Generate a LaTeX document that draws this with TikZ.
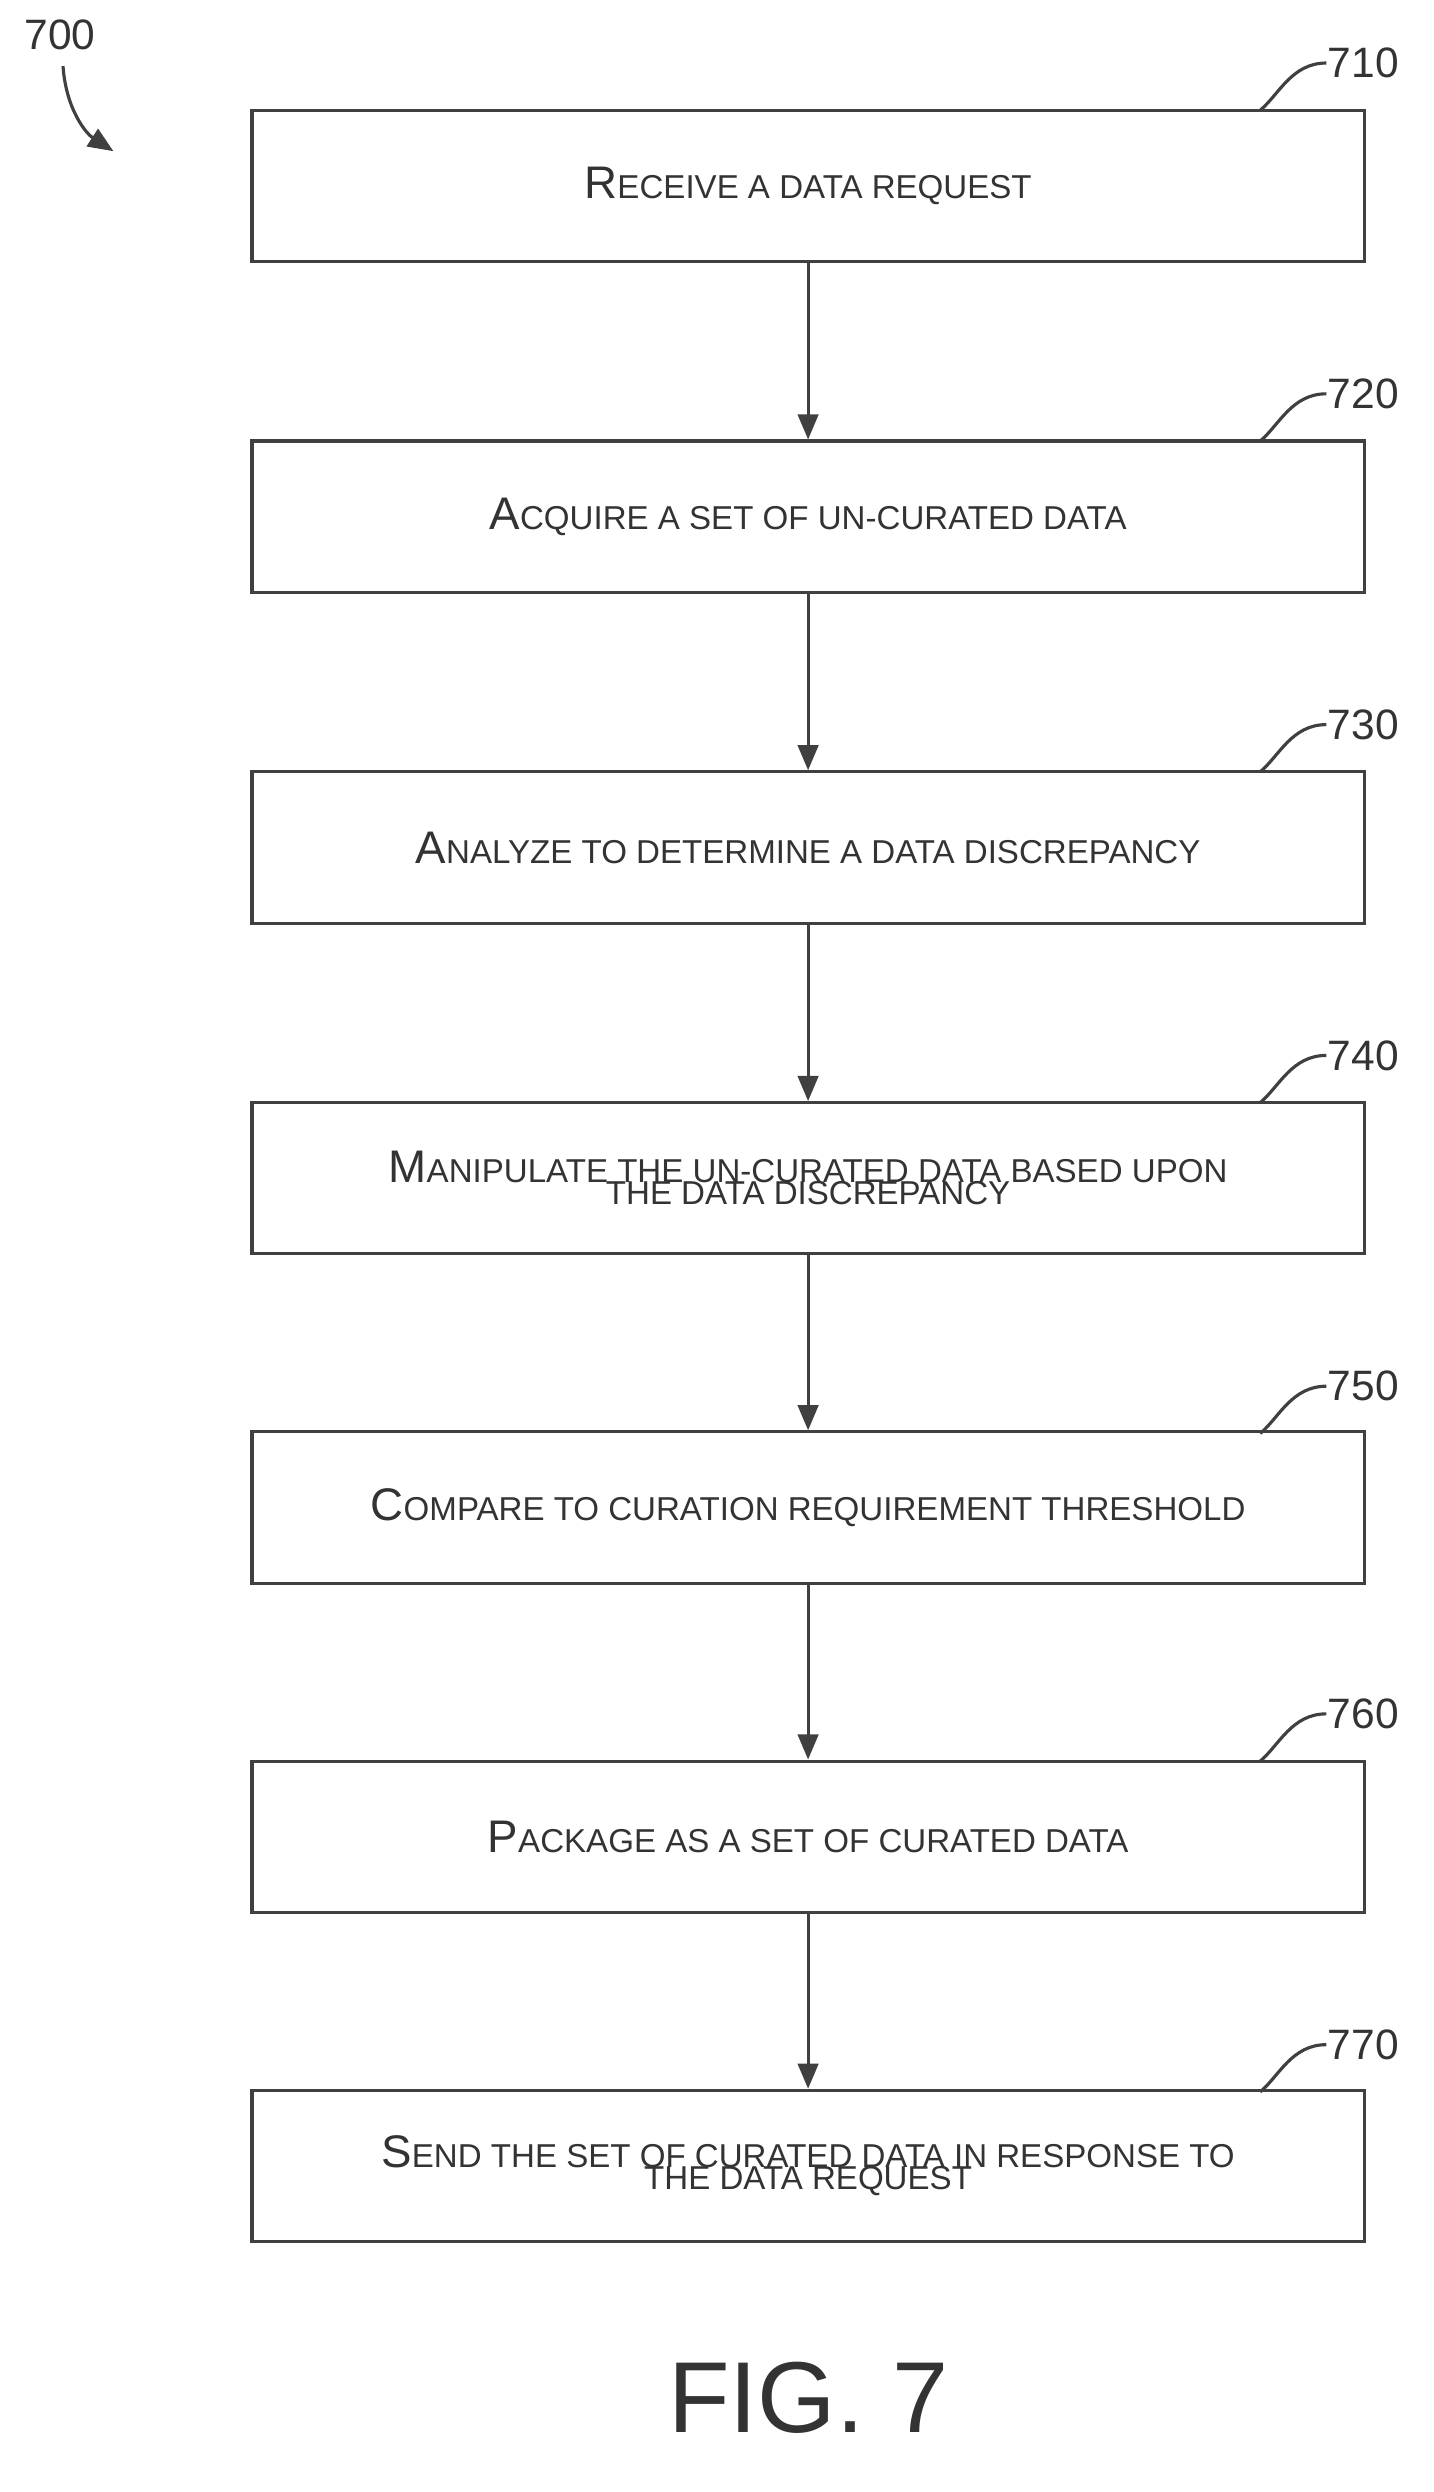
\documentclass[tikz,border=0pt]{standalone}
\usepackage{fontspec}
\setmainfont{Liberation Sans}
\usetikzlibrary{arrows.meta}
\newcommand{\fsc}[2]{{\fontsize{29}{34}\selectfont #1}{\fontsize{21}{34}\selectfont\MakeUppercase{#2}}}
\tikzset{every picture/.style={line width=2pt}}
\tikzset{stepbox/.style={draw=black!75,minimum width=706pt,minimum height=96pt,inner sep=0pt,align=center,text=black!80},
  flow/.style={draw=black!75,-{Triangle[length=16pt,width=13pt]}},
  lead/.style={draw=black!75}}
\begin{document}
\begin{tikzpicture}[x=1pt,y=1pt,yscale=-1,xscale=1]
\useasboundingbox (0,0) rectangle (910,1582);

% Steps
\node[stepbox] (s710) at (513,118) {\fsc{R}{eceive a data request}};
\node[stepbox] (s720) at (513,328) {\fsc{A}{cquire a set of un-curated data}};
\node[stepbox] (s730) at (513,538) {\fsc{A}{nalyze to determine a data discrepancy}};
\node[stepbox] (s740) at (513,748) {\fsc{M}{anipulate the un-curated data based upon}\\[-2pt]\fsc{}{the data discrepancy}};
\node[stepbox] (s750) at (513,957) {\fsc{C}{ompare to curation requirement threshold}};
\node[stepbox] (s760) at (513,1166) {\fsc{P}{ackage as a set of curated data}};
\node[stepbox] (s770) at (513,1375) {\fsc{S}{end the set of curated data in response to}\\[-2pt]\fsc{}{the data request}};

% Arrows
\draw[flow] (s710) -- (s720);
\draw[flow] (s720) -- (s730);
\draw[flow] (s730) -- (s740);
\draw[flow] (s740) -- (s750);
\draw[flow] (s750) -- (s760);
\draw[flow] (s760) -- (s770);

% Reference numerals
\foreach \n/\y in {710/70,720/280,730/490,740/700,750/910,760/1118,770/1328} {
  \node[anchor=west,inner sep=0pt,font=\fontsize{27}{30}\selectfont,text=black!80] (r\n) at (842,\y-30) {\n};
  \draw[lead] (800,\y) .. controls (812,\y-10) and (820,\y-30) .. (r\n.west);
}

% Figure number
\node[inner sep=0pt,font=\fontsize{27}{30}\selectfont,text=black!80] (r700) at (38,22) {700};
\coordinate (t700) at (72,96);
\draw[lead,-{Triangle[length=16pt,width=13pt]}] (40,42) .. controls (42,70) and (55,85) .. (t700);
\node[inner sep=0pt,font=\fontsize{64}{70}\selectfont,text=black!80] (fig) at (513,1522) {FIG. 7};
\end{tikzpicture}
\end{document}
